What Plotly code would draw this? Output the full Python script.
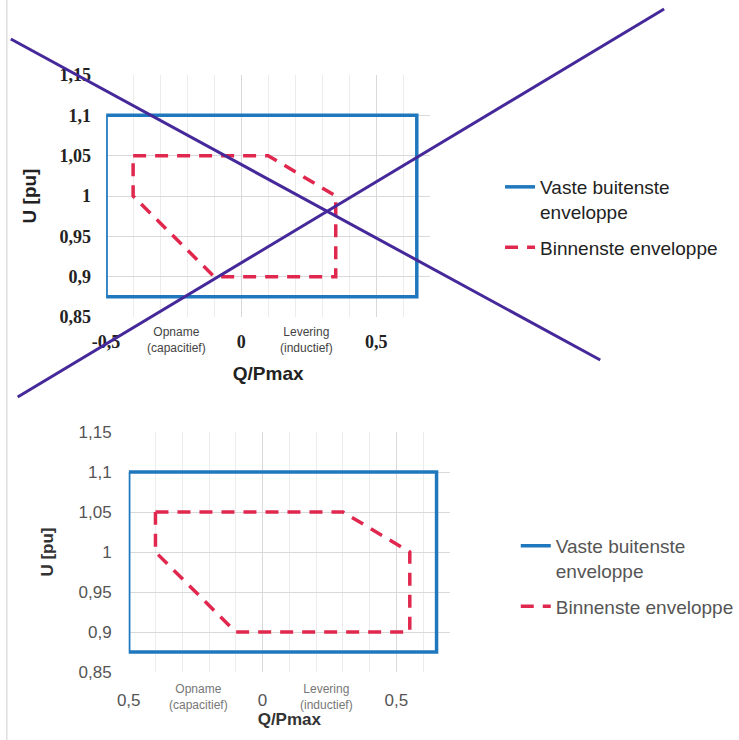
import plotly.graph_objects as go

# ---- data ----
outer_q = [-0.5, 0.65, 0.65, -0.5, -0.5]
outer_u = [1.1, 1.1, 0.875, 0.875, 1.1]

inner_top_q = [-0.4, 0.1, 0.35, 0.35, -0.1, -0.4, -0.4]
inner_top_u = [1.05, 1.05, 1.0, 0.9, 0.9, 1.0, 1.05]

inner_bot_q = [-0.4, 0.3, 0.55, 0.55, -0.1, -0.4, -0.4]
inner_bot_u = [1.05, 1.05, 1.0, 0.9, 0.9, 1.0, 1.05]

y_tickvals = [0.85, 0.9, 0.95, 1.0, 1.05, 1.1, 1.15]
y_ticktext = ["0,85", "0,9", "0,95", "1", "1,05", "1,1", "1,15"]
x_tickvals = [-0.5, 0, 0.5]
x_ticktext_top = ["-0,5", "0", "0,5"]
x_ticktext_bot = ["0,5", "0", "0,5"]

name_outer = "Vaste buitenste<br>enveloppe"
name_inner = "Binnenste enveloppe"

BLUE = "#1f78bd"
RED = "#e0284f"
PURPLE = "#45289a"

W, H = 739, 740

fig = go.Figure()

# top chart
fig.add_trace(go.Scatter(x=outer_q, y=outer_u, mode="lines", name=name_outer, legendgroup="a",
                         line=dict(color=BLUE, width=3.5), xaxis="x", yaxis="y", legend="legend"))
fig.add_trace(go.Scatter(x=inner_top_q, y=inner_top_u, mode="lines", name=name_inner, legendgroup="b",
                         line=dict(color=RED, width=3.5, dash="13px,9px"), xaxis="x", yaxis="y", legend="legend"))
# bottom chart
fig.add_trace(go.Scatter(x=outer_q, y=outer_u, mode="lines", name=name_outer, legendgroup="c",
                         line=dict(color=BLUE, width=3.5), xaxis="x2", yaxis="y2", legend="legend2"))
fig.add_trace(go.Scatter(x=inner_bot_q, y=inner_bot_u, mode="lines", name=name_inner, legendgroup="d",
                         line=dict(color=RED, width=3.5, dash="13px,9px"), xaxis="x2", yaxis="y2", legend="legend2"))

def px_x(p):
    return p / W

def px_y(p):
    return 1 - p / H

grid = "#d9d9d9"
minor_grid = "#ececec"

xa_common = dict(range=[-0.5, 0.7], tickvals=x_tickvals, showgrid=True, gridcolor=grid,
                 minor=dict(dtick=0.1, showgrid=True, gridcolor=minor_grid, tick0=-0.5),
                 zeroline=False, showline=False, ticks="", fixedrange=True, automargin=False)
ya_common = dict(range=[0.85, 1.15], tickvals=y_tickvals, ticktext=y_ticktext, showgrid=True,
                 gridcolor=grid, zeroline=False, showline=False, ticks="", fixedrange=True,
                 automargin=False)

SERIF = "Liberation Serif"
SANS = "Liberation Sans"

fig.update_layout(
    width=W, height=H, margin=dict(l=0, r=0, t=0, b=0),
    paper_bgcolor="white", plot_bgcolor="white",
    xaxis=dict(**xa_common, domain=[px_x(108), px_x(438)], anchor="y",
               ticktext=x_ticktext_top, ticklabelstandoff=12,
               tickfont=dict(family=SERIF, size=18, color="#222", weight="bold"),
               title=dict(text="<b>Q/Pmax</b>", standoff=15,
                          font=dict(family=SANS, size=19, color="#222"))),
    yaxis=dict(**ya_common, domain=[px_y(317), px_y(75)], anchor="x",
               ticklabelstandoff=14,
               tickfont=dict(family=SERIF, size=18, color="#222", weight="bold"),
               title=dict(text="<b>U [pu]</b>", standoff=17,
                          font=dict(family=SANS, size=19, color="#222"))),
    xaxis2=dict(**xa_common, domain=[px_x(131), px_x(458)], anchor="y2",
                ticktext=x_ticktext_bot, ticklabelstandoff=16,
                tickfont=dict(family=SANS, size=17, color="#555"),
                title=dict(text="<b>Q/Pmax</b>", standoff=4,
                           font=dict(family=SANS, size=17, color="#333"))),
    yaxis2=dict(**ya_common, domain=[px_y(672), px_y(432)], anchor="x2",
                ticklabelstandoff=16,
                tickfont=dict(family=SANS, size=17, color="#555"),
                title=dict(text="<b>U [pu]</b>", standoff=20,
                           font=dict(family=SANS, size=17, color="#333"))),
    legend=dict(x=px_x(509), y=px_y(168), xanchor="left", yanchor="top", valign="top",
                bgcolor="rgba(0,0,0,0)", itemwidth=30, tracegroupgap=8,
                font=dict(family=SANS, size=19, color="#222")),
    legend2=dict(x=px_x(525), y=px_y(527), xanchor="left", yanchor="top", valign="top",
                 bgcolor="rgba(0,0,0,0)", itemwidth=30, tracegroupgap=8,
                 font=dict(family=SANS, size=19, color="#555")),
)

# category hints under the x axes
for xref, yref, col, shift in [("x", "y", "#444", -6), ("x2", "y2", "#777", -8)]:
    fig.add_annotation(x=-0.24, y=0.85, xref=xref, yref=yref, yshift=shift, yanchor="top",
                       text="Opname<br>(capacitief)", showarrow=False,
                       font=dict(family=SANS, size=12, color=col))
    fig.add_annotation(x=0.24, y=0.85, xref=xref, yref=yref, yshift=shift, yanchor="top",
                       text="Levering<br>(inductief)", showarrow=False,
                       font=dict(family=SANS, size=12, color=col))

# strike-through lines over the top chart
strikes = [((11, 39), (611, 360)), ((18, 397), (676, 9))]
for (x0, y0), (x1, y1) in strikes:
    fig.add_shape(type="line", xref="paper", yref="paper",
                  x0=px_x(x0), y0=px_y(y0), x1=px_x(x1), y1=px_y(y1),
                  line=dict(color=PURPLE, width=3))

# thin page border on the left
fig.add_shape(type="line", xref="paper", yref="paper", x0=px_x(7), x1=px_x(7), y0=0, y1=1,
              line=dict(color="#cfcfcf", width=1))

fig.write_html("out.html", config={"displayModeBar": False},
               post_script="document.body.style.margin='0px';document.body.style.overflow='hidden';")
